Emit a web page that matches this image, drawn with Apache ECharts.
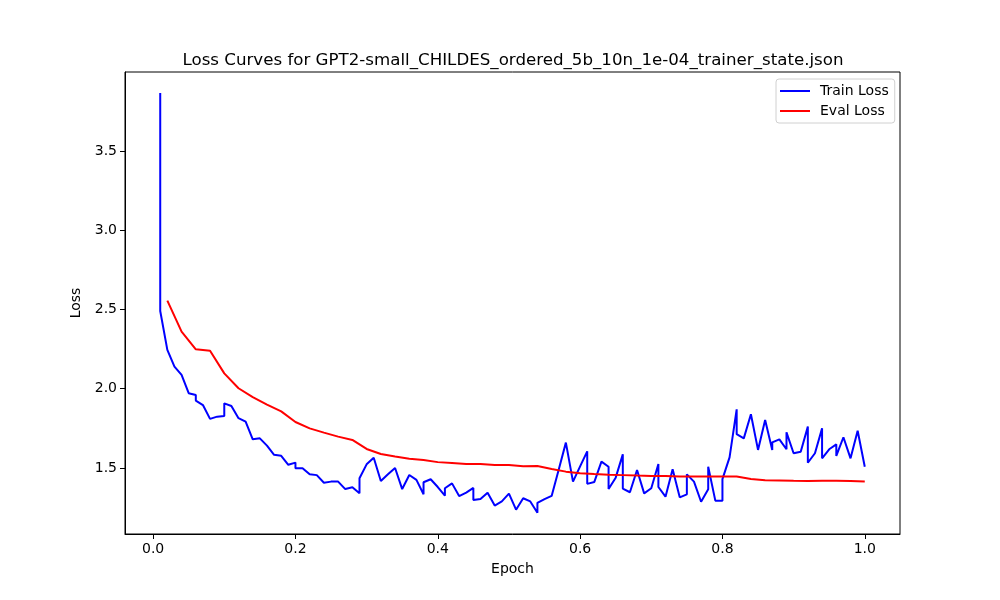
<!DOCTYPE html>
<html>
<head>
<meta charset="utf-8">
<script src="https://cdn.jsdelivr.net/npm/echarts@6/dist/echarts.min.js"></script>
<style>
html,body{margin:0;padding:0;background:#fff;}
#main{width:1000px;height:600px;}
</style>
</head>
<body>
<div id="main"></div>
<script>
/* 训练 loss：epoch 四舍五入到两位，所以有重复 x */
var trainEpoch = [0.01,0.01,0.02,0.03,0.04,0.05,0.06,0.06,0.07,0.08,0.09,0.10,0.10,0.11,0.12,0.13,0.14,0.15,0.15,0.16,
    0.17,0.18,0.19,0.20,0.20,0.21,0.22,0.23,0.24,0.25,0.26,0.27,0.27,0.28,0.29,0.29,0.30,0.31,0.32,0.33,
    0.34,0.35,0.36,0.37,0.38,0.38,0.39,0.40,0.41,0.41,0.42,0.43,0.44,0.45,0.45,0.46,0.47,0.48,0.49,0.50,
    0.51,0.52,0.53,0.54,0.54,0.55,0.56,0.57,0.58,0.59,0.60,0.61,0.61,0.62,0.63,0.64,0.64,0.65,0.66,0.66,
    0.67,0.68,0.69,0.70,0.71,0.71,0.72,0.73,0.74,0.75,0.75,0.76,0.77,0.78,0.78,0.79,0.80,0.80,0.81,0.82,
    0.82,0.83,0.84,0.85,0.86,0.87,0.87,0.88,0.89,0.89,0.90,0.91,0.92,0.92,0.93,0.94,0.94,0.95,0.96,0.96,
    0.97,0.98,0.99,1.00];
var trainLoss = [3.866,2.49,2.245,2.14,2.087,1.972,1.96,1.925,1.897,1.81,1.824,1.828,1.908,1.891,1.814,1.792,1.681,1.687,1.675,1.641,
    1.583,1.577,1.52,1.534,1.499,1.499,1.46,1.455,1.407,1.414,1.414,1.367,1.378,1.378,1.34,1.435,1.523,1.565,1.418,1.46,
    1.50,1.367,1.456,1.425,1.334,1.41,1.429,1.38,1.325,1.372,1.403,1.323,1.345,1.374,1.298,1.304,1.344,1.263,1.289,1.338,
    1.237,1.309,1.289,1.218,1.28,1.304,1.324,1.49,1.66,1.414,1.51,1.605,1.40,1.412,1.54,1.508,1.367,1.439,1.586,1.37,
    1.347,1.487,1.34,1.372,1.525,1.38,1.319,1.492,1.315,1.334,1.46,1.414,1.287,1.366,1.508,1.294,1.294,1.43,1.567,1.87,
    1.713,1.687,1.839,1.614,1.803,1.614,1.662,1.681,1.618,1.725,1.593,1.603,1.761,1.533,1.593,1.75,1.561,1.618,1.649,1.576,
    1.694,1.561,1.735,1.508];

/* 验证 loss：每 0.02 epoch 一次 */
var evalEpoch = [0.02,0.04,0.06,0.08,0.10,0.12,0.14,0.16,0.18,0.20,0.22,0.24,0.26,0.28,0.30,0.32,0.34,0.36,0.38,0.40,
    0.42,0.44,0.46,0.48,0.50,0.52,0.54,0.56,0.58,0.60,0.62,0.64,0.66,0.68,0.70,0.72,0.74,0.76,0.78,0.80,
    0.82,0.84,0.86,0.88,0.90,0.92,0.94,0.96,0.98,1.00];
var evalLoss = [2.556,2.36,2.249,2.24,2.097,2.003,1.947,1.90,1.857,1.79,1.75,1.723,1.698,1.677,1.62,1.588,1.572,1.558,1.55,1.537,
    1.532,1.525,1.525,1.519,1.519,1.511,1.513,1.494,1.477,1.467,1.462,1.458,1.455,1.452,1.450,1.449,1.447,1.447,1.447,1.446,
    1.446,1.430,1.423,1.421,1.419,1.418,1.419,1.419,1.418,1.414];

/* 刻度 */
var xTicks = [0.0,0.2,0.4,0.6,0.8,1.0];
var yTicks = [1.5,2.0,2.5,3.0,3.5];

function zip(a,b){
    var out=[];
    for(var i=0;i<a.length;i++){out.push([a[i],b[i]]);}
    return out;
}

var font = "DejaVu Sans";
var myChart = echarts.init(document.getElementById('main'));
myChart.setOption({
    animation:false,
    backgroundColor:'#fff',
    title:{
        text:'Loss Curves for GPT2-small_CHILDES_ordered_5b_10n_1e-04_trainer_state.json',
        left:508, top:47, textAlign:'center',
        textStyle:{fontFamily:font,fontSize:16.67,fontWeight:'normal',color:'#000'}
    },
    legend:{
        orient:'vertical',
        left:776, top:79,
        padding:[5,6,5,4],
        itemGap:6,
        itemWidth:30, itemHeight:2,
        icon:'rect',
        backgroundColor:'#fff',
        borderColor:'#d0d0d0', borderWidth:1, borderRadius:3,
        textStyle:{fontFamily:font,fontSize:14,color:'#000',padding:[0,0,0,5]},
        data:['Train Loss','Eval Loss']
    },
    grid:{left:125,right:100,top:72,bottom:66,show:true,borderColor:'#000',borderWidth:1,backgroundColor:'transparent'},
    xAxis:{
        type:'value', min:-0.0395, max:1.0495,
        name:'Epoch', nameLocation:'middle', nameGap:28,
        nameTextStyle:{fontFamily:font,fontSize:14,color:'#000'},
        axisLine:{show:true,onZero:false,lineStyle:{color:'#000',width:1}},
        axisTick:{show:true,length:5,lineStyle:{color:'#000'},customValues:xTicks},
        axisLabel:{fontFamily:font,fontSize:14,color:'#000',margin:8,customValues:xTicks,
            formatter:function(v){return v.toFixed(1);}},
        splitLine:{show:false}
    },
    yAxis:{
        type:'value', min:1.0836, max:3.998,
        name:'Loss', nameLocation:'middle', nameGap:37,
        nameTextStyle:{fontFamily:font,fontSize:14,color:'#000'},
        axisLine:{show:true,onZero:false,lineStyle:{color:'#000',width:1}},
        axisTick:{show:true,length:5,lineStyle:{color:'#000'},customValues:yTicks},
        axisLabel:{fontFamily:font,fontSize:14,color:'#000',margin:8,customValues:yTicks,
            formatter:function(v){return v.toFixed(1);}},
        splitLine:{show:false}
    },
    series:[
        {
            name:'Train Loss', type:'line', showSymbol:false,
            data:zip(trainEpoch,trainLoss),
            lineStyle:{color:'#0000ff',width:2}, itemStyle:{color:'#0000ff'}
        },
        {
            name:'Eval Loss', type:'line', showSymbol:false,
            data:zip(evalEpoch,evalLoss),
            lineStyle:{color:'#ff0000',width:2}, itemStyle:{color:'#ff0000'}
        }
    ]
});
</script>
</body>
</html>
